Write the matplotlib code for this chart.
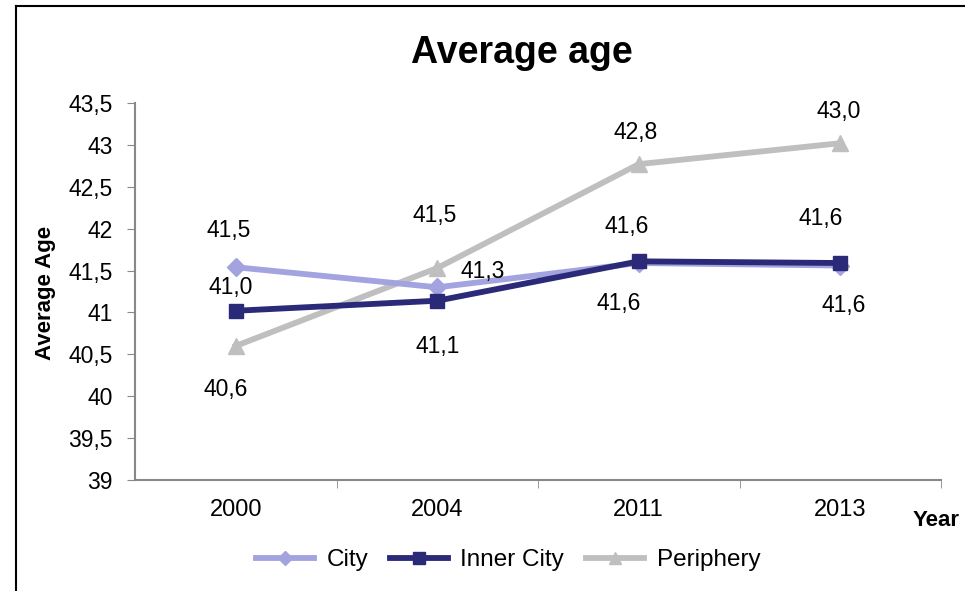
import matplotlib
matplotlib.use("Agg")
import numpy as np
from matplotlib import pyplot as plt
from matplotlib.lines import Line2D

plt.rcParams['font.family'] = ['Liberation Sans', 'DejaVu Sans']

# data
years = ['2000', '2004', '2011', '2013']
city = [41.54, 41.30, 41.59, 41.56]
inner_city = [41.02, 41.14, 41.61, 41.59]
periphery = [40.60, 41.53, 42.77, 43.02]
yticks = [39, 39.5, 40, 40.5, 41, 41.5, 42, 42.5, 43, 43.5]

# label offsets in pixels (dx, dy)
city_off = [(-7, 37), (45, 16), (-20, -40), (3, -40)]
inner_off = [(-5, 23), (0, -46), (-12, 35), (-20, 45)]
peri_off = [(-10, -44), (-3, 53), (-3, 32), (-2, 32)]

fig = plt.figure(figsize=(9.65, 5.91), dpi=100)
ax = fig.add_axes([135/965, 1 - 480/591, (941 - 135)/965, (480 - 103)/591])

x = np.arange(len(years))
c_city = '#A3A3E0'
c_inner = '#2A2A78'
c_peri = '#BFBFBF'

ax.plot(x, periphery, color=c_peri, lw=4.2, marker='^', ms=11, label='Periphery', zorder=2)
ax.plot(x, city, color=c_city, lw=4.2, marker='D', ms=9, label='City', zorder=3)
ax.plot(x, inner_city, color=c_inner, lw=4.2, marker='s', ms=10, label='Inner City', zorder=4)

def fmt(v):
    return ('%.1f' % v).replace('.', ',')

for vals, offs in [(city, city_off), (inner_city, inner_off), (periphery, peri_off)]:
    for i, v in enumerate(vals):
        ax.annotate(fmt(v), (x[i], v), xytext=offs[i], textcoords='offset pixels',
                    ha='center', va='center', fontsize=16.5, color='black')

ax.set_xlim(-0.5, len(years) - 0.5)
ax.set_ylim(39, 43.5)
ax.set_yticks(yticks)
ax.set_yticklabels([('%g' % t).replace('.', ',') for t in yticks], fontsize=16.5)
ax.set_xticks(x)
ax.set_xticklabels(years, fontsize=17)
ax.set_xticks(list(x[1:] - 0.5) + [len(years) - 0.5], minor=True)
ax.tick_params(axis='x', which='major', length=0, pad=14)
ax.tick_params(axis='x', which='minor', length=6, color='#888888')
ax.tick_params(axis='y', length=6, color='#888888', pad=10)

for s in ['top', 'right']:
    ax.spines[s].set_visible(False)
for s in ['left', 'bottom']:
    ax.spines[s].set_color('#888888')
    ax.spines[s].set_linewidth(1.5)

fig.text(522/965, 1 - 53/591, 'Average age', ha='center', va='center', fontsize=27, fontweight='bold')
fig.text(45/965, 1 - 293/591, 'Average Age', ha='center', va='center', rotation=90,
         fontsize=16, fontweight='bold')
fig.text(936/965, 1 - 520/591, 'Year', ha='center', va='center', fontsize=16, fontweight='bold')

handles = [Line2D([], [], color=c_city, lw=4.2, marker='D', ms=7),
           Line2D([], [], color=c_inner, lw=4.2, marker='s', ms=8),
           Line2D([], [], color=c_peri, lw=4.2, marker='^', ms=8)]
fig.legend(handles, ['City', 'Inner City', 'Periphery'], loc='center',
           bbox_to_anchor=(508/965, 1 - 560/591), ncol=3, frameon=False,
           fontsize=17.5, handlelength=2.4, columnspacing=0.9, handletextpad=0.5)

# outer frame (left and top edges visible)
fig.add_artist(Line2D([16/965, 16/965], [0, 1 - 6/591], color='black', lw=1.5))
fig.add_artist(Line2D([16/965, 1], [1 - 6/591, 1 - 6/591], color='black', lw=1.5))

plt.savefig('out.png', dpi=100)
